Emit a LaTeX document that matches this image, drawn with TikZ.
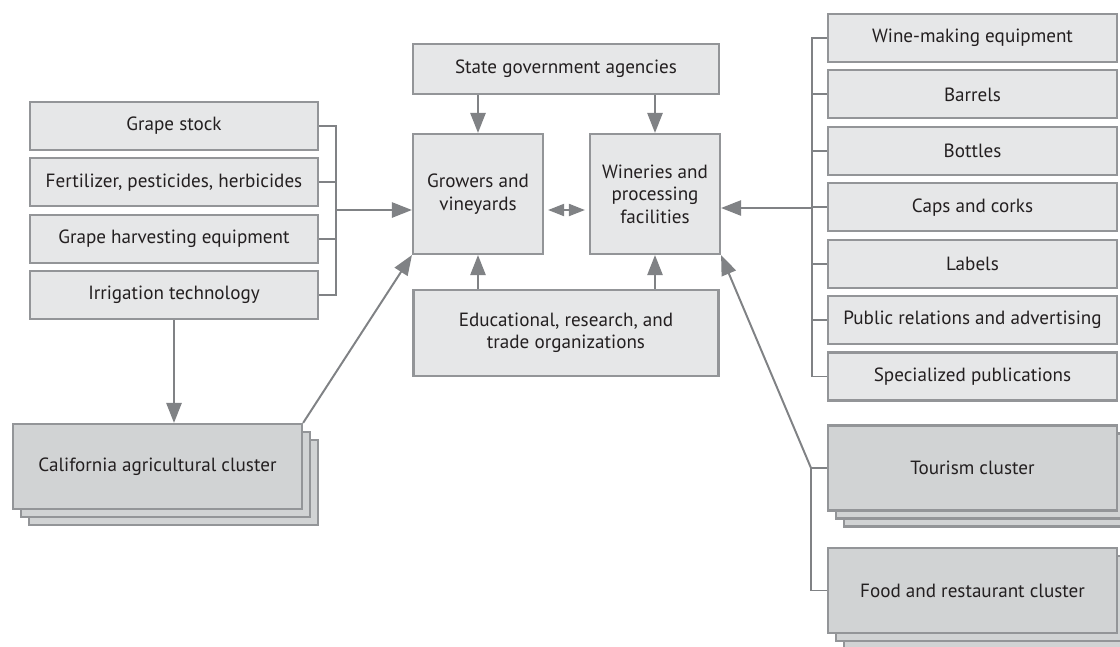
\documentclass[tikz,border=0pt]{standalone}
\usepackage{fontspec}
\setmainfont{PT Sans}
\usetikzlibrary{arrows.meta,positioning,shadows}

\definecolor{boxfill}{RGB}{230,231,232}
\definecolor{clusterfill}{RGB}{209,211,212}
\definecolor{boxedge}{RGB}{147,149,152}
\definecolor{linkgray}{RGB}{128,130,133}
\definecolor{inkgray}{RGB}{35,31,32}

\begin{document}
\begin{tikzpicture}
			[x=0.025cm,y=-0.025cm,node distance=1.41cm,on grid,
			font=\fontsize{13.6}{16}\selectfont,
			supplier/.style={rectangle,draw=boxedge,fill=boxfill,line width=1.5pt,text=inkgray,inner sep=0pt,minimum width=7.2cm,minimum height=1.2cm},
			core/.style={supplier,align=center,minimum width=3.25cm,minimum height=3cm},
			cluster/.style={supplier,fill=clusterfill,minimum width=7.225cm,minimum height=2.125cm,double copy shadow={shadow xshift=0.2cm,shadow yshift=-0.2cm}},
			link/.style={draw=linkgray,line width=1.4pt},
			post/.style={link,-{Triangle[length=0.5cm,width=0.38cm]}},
			both/.style={link,{Triangle[length=0.4cm,width=0.3cm]}-{Triangle[length=0.4cm,width=0.3cm]},shorten <=0.1cm,shorten >=0.1cm}]

			\useasboundingbox (0,0) rectangle (1120,646);

			% left suppliers
			\node [supplier](gs) at (174,126)      {Grape stock};
			\node [supplier](fert) [below=of gs]   {Fertilizer, pesticides, herbicides};
			\node [supplier](harv) [below=of fert] {Grape harvesting equipment};
			\node [supplier](irr) [below=of harv]  {Irrigation technology};

			% core
			\node [core](grow) at (478,194) {Growers and\\vineyards};
			\node [core](win) at (655,194)  {Wineries and\\processing\\facilities};
			\node [supplier,minimum width=7.65cm,minimum height=1.25cm](state) at (566,69) {State government agencies};
			\node [supplier,align=center,minimum width=7.625cm,minimum height=2.15cm](edu) at (566,333) {Educational, research, and\\trade organizations};

			% right suppliers
			\node [supplier,minimum width=7.225cm](wine) at (972.5,38)   {Wine-making equipment};
			\node [supplier,minimum width=7.225cm](barrels) [below=of wine]    {Barrels};
			\node [supplier,minimum width=7.225cm](bottles) [below=of barrels] {Bottles};
			\node [supplier,minimum width=7.225cm](caps) [below=of bottles]    {Caps and corks};
			\node [supplier,minimum width=7.225cm](labels) [below=of caps]     {Labels};
			\node [supplier,minimum width=7.225cm](pr) [below=of labels]       {Public relations and advertising};
			\node [supplier,minimum width=7.225cm](spec) [below=of pr]         {Specialized publications};

			% clusters
			\node [cluster](cal) at (157.5,466.5) {California agricultural cluster};
			\node [cluster](tour) at (972.5,468)  {Tourism cluster};
			\node [cluster](food) at (972.5,590.5) {Food and restaurant cluster};

			\coordinate (lj) at (336,210);
			\coordinate (rj) at (812,208);
			\coordinate (cj) at (811,468);

			% brackets
			\draw [link] (gs.east) -| (lj |- irr.east) -- (irr.east);
			\draw [link] (fert.east) -- (fert.east -| lj);
			\draw [link] (harv.east) -- (harv.east -| lj);
			\draw [link] (wine.west) -| (rj |- spec.west) -- (spec.west);
			\foreach \n in {barrels,bottles,caps,labels,pr}
				\draw [link] (\n.west) -- (\n.west -| rj);
			\draw [link] (tour.west) -- (cj) |- (food.west);

			% arrows
			\draw [post] (lj) -- (grow.west |- lj);
			\draw [post] (rj) -- (win.east |- rj);
			\draw [both] (grow.east |- lj) -- (win.west |- lj);
			\draw [post] (grow.north |- state.south) -- (grow.north);
			\draw [post] (win.north |- state.south) -- (win.north);
			\draw [post] (grow.south |- edu.north) -- (grow.south);
			\draw [post] (win.south |- edu.north) -- (win.south);
			\draw [post] (irr.south) -- (irr.south |- cal.north);
			\draw [post] (cal.north east) -- (grow.south west);
			\draw [post] (cj) -- (win.south east);

\end{tikzpicture}
\end{document}
